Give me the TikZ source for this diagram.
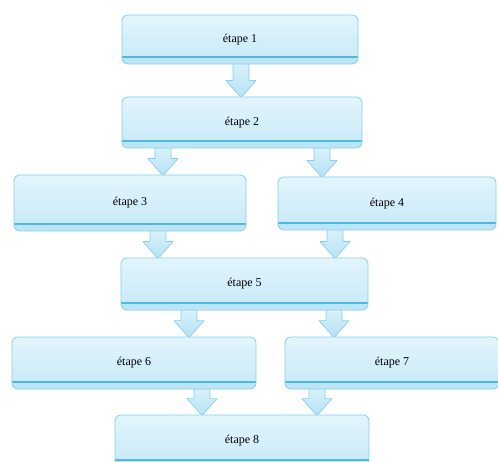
\documentclass[tikz,border=0pt]{standalone}
\usepackage{fontspec}
\setmainfont{Liberation Serif}
\usetikzlibrary{calc,backgrounds}
\definecolor{boxtop}{HTML}{E3F5FC}
\definecolor{boxbot}{HTML}{C6E9F7}
\definecolor{boxline}{HTML}{86CFE9}
\definecolor{bandfill}{HTML}{BDE5F5}
\definecolor{bandline}{HTML}{4DB8E0}
\definecolor{arrtop}{HTML}{DAF2FB}
\definecolor{arrbot}{HTML}{B6E2F4}
\tikzset{
  stepbox/.style={rectangle, rounded corners=6pt, draw=boxline, line width=0.8pt,
    top color=boxtop, bottom color=boxbot, inner sep=0pt,
    font=\fontsize{12}{14}\selectfont, text=black,
    path picture={
      \fill[bandfill] (path picture bounding box.south west) rectangle ([yshift=7pt]path picture bounding box.south east);
      \draw[bandline, line width=1.3pt] ([yshift=7pt]path picture bounding box.south west) -- ([yshift=7pt]path picture bounding box.south east);
    }},
  blockarrow/.style={draw=boxline, line width=0.7pt, top color=arrtop, bottom color=arrbot, line join=round}
}
\newcommand\flowarrow[3]{%
  \path[blockarrow] let \p1=(#2.south), \p2=(#3.north) in
    ({#1pt-8pt},{\y1+2pt}) -- ({#1pt-8pt},{\y2+16pt}) -- ({#1pt-15pt},{\y2+16pt}) --
    ({#1pt},{\y2-1pt}) -- ({#1pt+15pt},{\y2+16pt}) -- ({#1pt+8pt},{\y2+16pt}) --
    ({#1pt+8pt},{\y1+2pt}) -- cycle;}
\begin{document}
\begin{tikzpicture}[x=1pt,y=1pt]
\useasboundingbox (0,0) rectangle (498,461);
\clip (0,0) rectangle (498,461);
\node[stepbox, minimum width=236pt, minimum height=49pt] (b1) at (240,421.5) {étape 1};
\node[stepbox, minimum width=240pt, minimum height=51pt] (b2) at (242,338.5) {étape 2};
\node[stepbox, minimum width=232pt, minimum height=56pt] (b3) at (130,258) {étape 3};
\node[stepbox, minimum width=218pt, minimum height=53pt] (b4) at (387,257.5) {étape 4};
\node[stepbox, minimum width=247pt, minimum height=52pt] (b5) at (244.5,177) {étape 5};
\node[stepbox, minimum width=244pt, minimum height=52pt] (b6) at (134,98) {étape 6};
\node[stepbox, minimum width=214pt, minimum height=52pt] (b7) at (392,98) {étape 7};
\node[stepbox, minimum width=254pt, minimum height=52pt] (b8) at (242,20) {étape 8};
\begin{pgfonlayer}{background}
\flowarrow{241}{b1}{b2}
\flowarrow{163}{b2}{b3}
\flowarrow{322}{b2}{b4}
\flowarrow{158}{b3}{b5}
\flowarrow{335}{b4}{b5}
\flowarrow{189}{b5}{b6}
\flowarrow{334}{b5}{b7}
\flowarrow{202}{b6}{b8}
\flowarrow{317}{b7}{b8}
\end{pgfonlayer}
\end{tikzpicture}
\end{document}
